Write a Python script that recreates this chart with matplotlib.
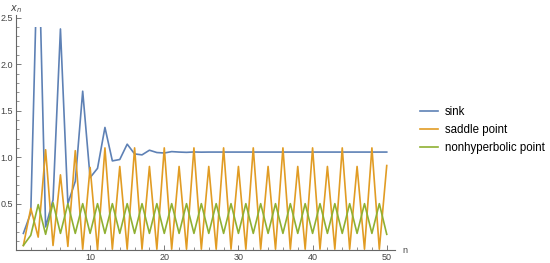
import matplotlib
matplotlib.use("Agg")
import matplotlib.pyplot as plt
from matplotlib.patches import Rectangle
from matplotlib.ticker import MultipleLocator

n = list(range(1, 51))

sink = [0.18, 0.40, 3.50, 0.25, 0.54, 2.38, 0.50, 0.74, 1.71, 0.78,
        0.88, 1.32, 0.96, 0.975, 1.14, 1.035, 1.025, 1.075, 1.05, 1.045,
        1.06, 1.055, 1.052, 1.056, 1.054, 1.055, 1.055, 1.055, 1.055, 1.055,
        1.055, 1.055, 1.055, 1.055, 1.055, 1.055, 1.055, 1.055, 1.055, 1.055,
        1.055, 1.055, 1.055, 1.055, 1.055, 1.055, 1.055, 1.055, 1.055, 1.055]

saddle = [0.05, 0.45, 0.14, 1.08, 0.05, 0.81, 0.04, 1.07, 0.01, 0.89,
          0.00, 1.10, 0.01, 0.90, 0.01, 1.10, 0.01, 0.90, 0.01, 1.10,
          0.01, 0.90, 0.01, 1.10, 0.01, 0.90, 0.01, 1.10, 0.01, 0.90,
          0.01, 1.10, 0.01, 0.90, 0.01, 1.10, 0.01, 0.90, 0.01, 1.10,
          0.01, 0.90, 0.01, 1.10, 0.01, 0.90, 0.01, 1.10, 0.01, 0.91]

nonhyp = [0.05, 0.16, 0.49, 0.17, 0.51, 0.18, 0.50, 0.18, 0.50, 0.18,
          0.50, 0.18, 0.50, 0.18, 0.50, 0.18, 0.50, 0.18, 0.50, 0.18,
          0.50, 0.18, 0.50, 0.18, 0.50, 0.18, 0.50, 0.18, 0.50, 0.18,
          0.50, 0.18, 0.50, 0.18, 0.50, 0.18, 0.50, 0.18, 0.50, 0.18,
          0.50, 0.18, 0.50, 0.18, 0.50, 0.18, 0.50, 0.18, 0.50, 0.17]

labels = ["sink", "saddle point", "nonhyperbolic point"]
colors = ["#5E81B5", "#E19C24", "#8FB032"]

plt.rcParams['font.family'] = ['Liberation Sans', 'DejaVu Sans']

fig = plt.figure(figsize=(5.5, 2.63), dpi=100)
ax = fig.add_axes([0.029, 0.049, 0.689, 0.894])

lines = []
for ys, lab, c in zip([sink, saddle, nonhyp], labels, colors):
    ln, = ax.plot(n, ys, color=c, lw=1.2, label=lab)
    lines.append(ln)

ax.set_xlim(0, 51.1)
ax.set_ylim(0, 2.53)

clip = Rectangle((0, 0), 51.1, 2.4, transform=ax.transData)
lines[0].set_clip_path(clip)

for s in ["top", "right"]:
    ax.spines[s].set_visible(False)
for s in ["left", "bottom"]:
    ax.spines[s].set_color("#666666")
    ax.spines[s].set_linewidth(0.8)

ax.xaxis.set_minor_locator(MultipleLocator(2))
ax.yaxis.set_minor_locator(MultipleLocator(0.1))
ax.set_xticks([10, 20, 30, 40, 50])
ax.set_xticklabels(["10", "20", "30", "40", "50"])
ax.set_yticks([0.5, 1.0, 1.5, 2.0, 2.5])
ax.set_yticklabels(["0.5", "1.0", "1.5", "2.0", "2.5"])
ax.tick_params(which="both", direction="in", color="#666666", labelcolor="#444444",
               labelsize=6.5, pad=2)
ax.tick_params(which="major", length=3.5, width=0.6)
ax.tick_params(which="minor", length=2, width=0.5)

ax.text(0, 1.0, r"$x_n$", transform=ax.transAxes, ha="center", va="bottom",
        fontsize=7, color="#444444")
ax.text(1.02, 0.0, "n", transform=ax.transAxes, ha="left", va="center",
        fontsize=6.5, color="#444444")

fig.legend(handles=lines, labels=labels, loc="center left",
           bbox_to_anchor=(0.755, 0.506), frameon=False, fontsize=8.3,
           handlelength=1.6, handletextpad=0.6, labelspacing=0.55,
           borderaxespad=0)

fig.savefig("out.png", dpi=100)
